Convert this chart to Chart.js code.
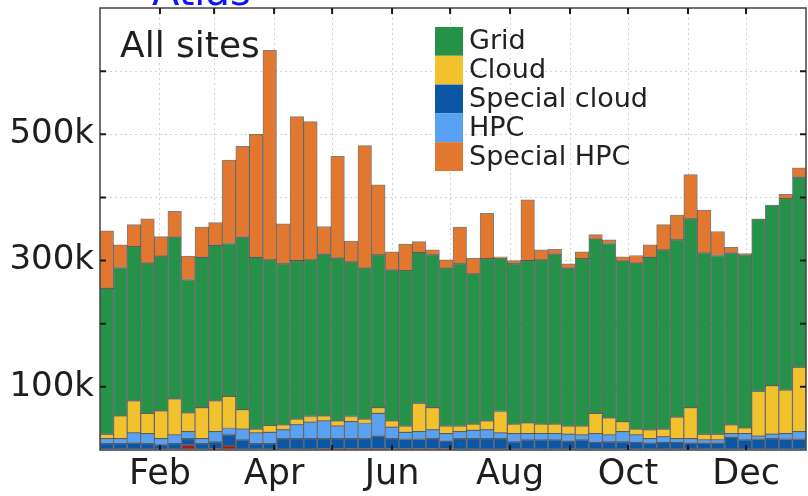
<!DOCTYPE html>
<html>
<head>
<meta charset="utf-8">
<script src="https://cdn.jsdelivr.net/npm/chart.js@4.4.1/dist/chart.umd.min.js"></script>
<style>
  html, body { margin: 0; padding: 0; background: #fff; }
  #wrap { width: 808px; height: 496px; position: relative; }
</style>
</head>
<body>
<div id="wrap"><canvas id="c" width="808" height="496"></canvas></div>
<script>
// Weekly running jobs (thousands of slots), one bar per week of the year
const weeks = Array.from({ length: 52 }, (_, i) => 'W' + (i + 1));

const other = [0,0,0,0,0,0,8,0,2,7,0,0,0,0,0,0,2,2,2,2,2,2,2,2,2,2,
               0,0,0,0,0,0,0,0,0,0,0,0,0,0,0,0,0,0,0,0,0,0,0,0,0,0];
const specialCloud = [10,10,11,10,8,10,10,10,11,17,16,10,10,18,18,18,16,16,16,16,20,16,15,15,16,13,
                      18,18,18,18,13,16,16,16,15,16,12,13,13,12,11,12,12,11,11,11,20,16,17,18,17,17];
const hpc = [8,8,16,16,10,14,11,8,16,10,17,17,18,14,22,26,28,20,27,24,36,18,11,12,14,11,
             11,13,14,9,13,10,10,10,10,8,14,11,16,12,7,9,6,7,5,5,6,10,5,7,9,12];
const cloud = [7,36,51,32,44,57,30,49,49,51,31,6,11,8,9,9,8,8,8,7,9,10,10,45,35,12,
               9,10,14,34,15,17,15,15,13,14,32,27,16,9,14,12,34,49,9,9,14,9,71,77,69,102];
const grid = [231,235,244,238,245,256,211,238,246,242,273,272,262,255,251,248,256,258,245,239,242,239,246,239,242,250,
              257,238,257,243,254,257,260,269,250,265,276,276,254,263,273,284,281,299,287,283,272,274,273,286,303,301];
const specialHpc = [91,36,35,70,31,41,37,48,36,132,144,195,332,63,228,219,44,161,33,194,111,29,42,17,8,13,
                    58,25,72,2,5,96,16,8,7,11,7,6,7,12,20,40,39,70,68,38,9,2,0,0,7,15];

// Month axis: day-of-year of each month start, and which names get a label
const monthStarts = [0,31,59,90,120,151,181,212,243,273,304,334];
const monthNames = ['Jan','Feb','Mar','Apr','May','Jun','Jul','Aug','Sep','Oct','Nov','Dec'];
const labelledMonths = ['Feb','Apr','Jun','Aug','Oct','Dec'];

// Value axis (thousands): every 100k gets a tick, only some get text
const yTicks = [100,200,300,400,500,600];
const yTickLabels = { 100: '100k', 300: '300k', 500: '500k' };

const colors = {
  other: '#9c1b1b',
  specialCloud: '#0c57a5',
  hpc: '#59a1f2',
  cloud: '#f2c12e',
  grid: '#269149',
  specialHpc: '#e2782f'
};

const legendOrder = ['Grid', 'Cloud', 'Special cloud', 'HPC', 'Special HPC'];
const FONT = '"DejaVu Sans", "Liberation Sans", sans-serif';

function ds(label, data, color) {
  return {
    label, data,
    backgroundColor: color,
    borderColor: 'rgba(20,20,20,0.55)',
    borderWidth: 1,
    borderSkipped: false,
    barPercentage: 1,
    categoryPercentage: 1,
    xAxisID: 'x',
    yAxisID: 'y'
  };
}

// Frame around the plot with inward tick marks on all four sides
const framePlugin = {
  id: 'frame',
  afterDatasetsDraw(chart) {
    const { ctx, chartArea: a, scales } = chart;
    ctx.save();
    ctx.strokeStyle = '#444';
    ctx.lineWidth = 1.5;
    ctx.strokeRect(a.left, a.top, a.right - a.left, a.bottom - a.top);
    ctx.strokeStyle = '#1a1a1a';
    ctx.lineWidth = 2;
    ctx.beginPath();
    yTicks.forEach(v => {
      const py = scales.y.getPixelForValue(v);
      ctx.moveTo(a.left, py); ctx.lineTo(a.left + 6, py);
      ctx.moveTo(a.right - 6, py); ctx.lineTo(a.right, py);
    });
    monthStarts.slice(1).forEach(v => {
      const px = scales.months.getPixelForValue(v);
      ctx.moveTo(px, a.top); ctx.lineTo(px, a.top + 6);
      ctx.moveTo(px, a.bottom - 5); ctx.lineTo(px, a.bottom);
    });
    ctx.stroke();
    ctx.restore();
  }
};

// Panel title, heading and the in-plot legend
const annotatePlugin = {
  id: 'annotate',
  afterDraw(chart) {
    const { ctx, chartArea: a } = chart;
    ctx.save();
    ctx.textBaseline = 'alphabetic';
    ctx.textAlign = 'left';

    ctx.fillStyle = '#0b16f5';
    ctx.font = '40px ' + FONT;
    ctx.fillText('Atlas', 152, 5);

    ctx.fillStyle = '#1e1e1e';
    ctx.font = '36px ' + FONT;
    ctx.fillText('All sites', a.left + 20, a.top + 49);

    const boxX = a.left + 335, boxW = 28, rowH = 28.8, top = a.top + 19;
    const byLabel = {};
    chart.data.datasets.forEach(d => { byLabel[d.label] = d; });
    ctx.font = '27px ' + FONT;
    ctx.textBaseline = 'middle';
    legendOrder.forEach((name, i) => {
      const y = top + i * rowH;
      ctx.fillStyle = byLabel[name].backgroundColor;
      ctx.fillRect(boxX, y, boxW, rowH);
      ctx.fillStyle = '#222';
      ctx.fillText(name, boxX + boxW + 6, y + rowH / 2 + 1);
    });
    ctx.restore();
  }
};

new Chart(document.getElementById('c'), {
  type: 'bar',
  data: {
    labels: weeks,
    datasets: [
      ds('Other', other, colors.other),
      ds('Special cloud', specialCloud, colors.specialCloud),
      ds('HPC', hpc, colors.hpc),
      ds('Cloud', cloud, colors.cloud),
      ds('Grid', grid, colors.grid),
      ds('Special HPC', specialHpc, colors.specialHpc)
    ]
  },
  options: {
    responsive: false,
    animation: false,
    layout: { padding: { top: 8, right: 2, left: 0, bottom: 0 } },
    plugins: { legend: { display: false }, tooltip: { enabled: false }, title: { display: false } },
    scales: {
      x: { type: 'category', stacked: true, display: false, offset: true },
      months: {
        type: 'linear', position: 'bottom', min: 0, max: 365, offset: false,
        afterBuildTicks: s => { s.ticks = monthStarts.map(v => ({ value: v })); },
        afterFit: s => { s.height = 46; s.paddingLeft = 0; s.paddingRight = 0; },
        ticks: {
          autoSkip: false, maxRotation: 0, padding: 4,
          color: '#1e1e1e', font: { family: FONT, size: 35 },
          callback: v => {
            const name = monthNames[monthStarts.indexOf(v)];
            return labelledMonths.includes(name) ? name : '';
          }
        },
        grid: { color: '#d2d2d2', lineWidth: 1, drawTicks: false, offset: false },
        border: { display: false, dash: [2, 3] }
      },
      y: {
        stacked: true, min: 0, max: 700,
        afterBuildTicks: s => { s.ticks = [0].concat(yTicks).map(v => ({ value: v })); },
        afterFit: s => { s.width = 100; s.paddingTop = 0; s.paddingBottom = 0; },
        ticks: {
          autoSkip: false, padding: 6,
          color: '#1e1e1e', font: { family: FONT, size: 34 },
          callback: v => yTickLabels[v] || ''
        },
        grid: { color: '#d2d2d2', lineWidth: 1, drawTicks: false },
        border: { display: false, dash: [2, 3] }
      }
    }
  },
  plugins: [framePlugin, annotatePlugin]
});
</script>
</body>
</html>
